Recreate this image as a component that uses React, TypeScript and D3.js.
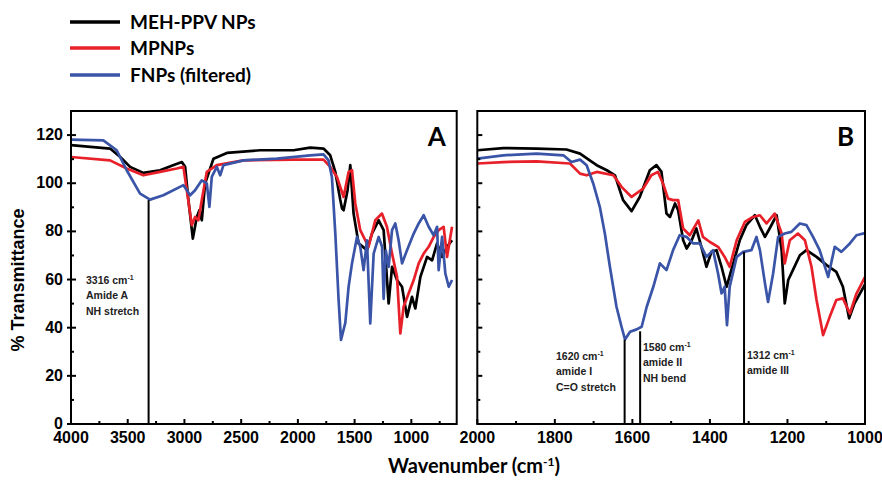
import React from "react";
import * as d3 from "d3";

// ---- Data (wavenumber cm-1, % transmittance) ----
const A_MEH_WN = [4000, 3656, 3568, 3479, 3362, 3215, 3100, 3023, 2994, 2965, 2926, 2891, 2868, 2847, 2818, 2744, 2626, 2332, 2038, 1891, 1774, 1715, 1670, 1626, 1611, 1597, 1562, 1538, 1509, 1465, 1391, 1347, 1288, 1244, 1200, 1170, 1126, 1082, 1038, 994, 965, 920, 861, 817, 773, 729, 685, 641];
const A_MEH_T = [115.8, 114.4, 111, 106.8, 104.3, 105.4, 107.5, 108.8, 106.8, 93, 77, 86, 88.8, 84.6, 99.9, 110.2, 112.6, 113.7, 113.7, 114.8, 114.4, 111.6, 104.7, 93, 89.5, 88.8, 97.1, 107.5, 87.4, 75, 72.2, 79.1, 84.6, 80.5, 50.1, 65.3, 59.8, 57, 44.5, 52.8, 48, 61.1, 69.4, 68, 75, 69.4, 73.6, 76.3];

const A_MP_WN = [4000, 3656, 3509, 3362, 3215, 3068, 3009, 2979, 2935, 2906, 2877, 2847, 2803, 2715, 2480, 2038, 1774, 1715, 1656, 1597, 1553, 1523, 1494, 1450, 1377, 1318, 1259, 1215, 1170, 1126, 1097, 1068, 1024, 979, 935, 891, 847, 803, 759, 715, 685, 641];
const A_MP_T = [110.9, 109.5, 106.1, 103.3, 104.7, 106.1, 106.8, 97.1, 82.6, 86, 84.6, 93, 104.7, 107.5, 109.5, 109.8, 109.8, 106.8, 102.6, 94.3, 104.7, 105.4, 91.6, 80.5, 73.6, 84.6, 87.4, 81.9, 70.8, 61.1, 37.6, 48.7, 54.2, 59.8, 66.7, 70.8, 73.6, 77.7, 80.5, 81.9, 69.4, 81.9];

const A_FN_WN = [4000, 3715, 3597, 3509, 3391, 3303, 3186, 3009, 2979, 2950, 2906, 2847, 2803, 2780, 2759, 2715, 2685, 2656, 2480, 2185, 1891, 1774, 1730, 1700, 1670, 1641, 1620, 1582, 1553, 1523, 1479, 1450, 1421, 1391, 1362, 1332, 1288, 1258, 1244, 1225, 1200, 1170, 1141, 1112, 1082, 1038, 979, 935, 891, 847, 803, 773, 759, 729, 700, 670, 641];
const A_FN_T = [118.1, 117.8, 113.7, 105.4, 95.7, 93.2, 95, 99.2, 97.1, 95, 97.1, 101.2, 99.9, 90.2, 102.6, 106.8, 103.3, 107.5, 109.5, 110.2, 111.6, 112, 109.5, 102.6, 79.1, 51.5, 34.9, 42, 57, 66.7, 77.7, 73.6, 63.9, 76.3, 41.8, 70.8, 77.7, 73.6, 52, 72, 65.3, 80.5, 83.3, 76.3, 66.7, 72.2, 79.1, 83.3, 86.7, 81.9, 78.4, 81.9, 63.9, 77.7, 62.5, 57, 59.8];

const B_MEH_WN = [2000, 1933, 1847, 1770, 1735, 1710, 1692, 1666, 1645, 1624, 1602, 1581, 1555, 1538, 1525, 1512, 1503, 1490, 1482, 1469, 1460, 1447, 1435, 1422, 1409, 1396, 1383, 1370, 1357, 1340, 1323, 1306, 1284, 1271, 1258, 1246, 1228, 1215, 1207, 1198, 1186, 1168, 1151, 1125, 1099, 1074, 1057, 1041, 1027, 1000];
const B_MEH_T = [113.7, 114.6, 114.4, 114, 112.3, 109.5, 107.5, 105.4, 103.3, 93, 88.4, 94.3, 105.4, 107.5, 104.7, 87.4, 86, 91.6, 88.8, 76.3, 72.9, 76.3, 81.2, 73.6, 65.3, 71.5, 72.2, 65.3, 57, 66.7, 76.3, 82.6, 86.7, 81.9, 77.7, 81.2, 86.7, 72.2, 50.1, 59.8, 63.9, 70.1, 72.2, 69.4, 66, 63.2, 57, 43.9, 50.1, 58];

const B_MP_WN = [2000, 1933, 1847, 1761, 1735, 1718, 1692, 1649, 1628, 1602, 1572, 1551, 1534, 1521, 1508, 1495, 1482, 1469, 1452, 1430, 1418, 1400, 1379, 1362, 1349, 1331, 1310, 1289, 1271, 1254, 1233, 1215, 1207, 1194, 1173, 1155, 1138, 1125, 1108, 1091, 1074, 1057, 1039, 1022, 1000];
const B_MP_T = [108.2, 108.8, 109.1, 108.2, 104, 103.3, 104.7, 103.3, 98.5, 94.3, 97.8, 103.3, 104.7, 99.9, 93.6, 93, 93, 81.2, 78.4, 84.6, 77.7, 75.6, 73.6, 69.4, 65.3, 76.3, 83.9, 86, 86.7, 83.3, 87.4, 79.1, 66.7, 76.3, 79.1, 76.3, 65.3, 51.5, 36.9, 44.5, 51.5, 52.2, 45.9, 54.2, 61];

const B_FN_WN = [2000, 1933, 1847, 1778, 1757, 1735, 1718, 1701, 1684, 1671, 1658, 1641, 1628, 1619, 1606, 1589, 1576, 1563, 1546, 1529, 1512, 1495, 1478, 1460, 1443, 1426, 1409, 1392, 1379, 1370, 1362, 1356, 1349, 1331, 1314, 1293, 1280, 1271, 1258, 1250, 1237, 1224, 1207, 1190, 1168, 1151, 1134, 1117, 1095, 1078, 1061, 1039, 1022, 1000];
const B_FN_T = [110.2, 111.6, 112.3, 111.6, 108.8, 109.8, 107.5, 99.9, 90.2, 79.1, 65.3, 48.7, 40.4, 35.1, 38.3, 39.3, 40.4, 48.7, 57, 66.7, 63.9, 72.2, 78.4, 77.7, 75, 75, 69.4, 72.2, 62.5, 54.2, 57, 41.1, 57, 69.4, 71.5, 72.2, 77.7, 72.2, 58.4, 50.7, 62.5, 77.7, 79.1, 79.8, 83.3, 82.6, 77.7, 72.2, 61.1, 73.6, 71.5, 75, 78.4, 79.3];

const SERIES_NAMES = ["MEH-PPV NPs", "MPNPs", "FNPs (filtered)"];
const SERIES_COLORS = ["#000000", "#e8202a", "#3a54a8"];

const Y_TICKS = [0, 20, 40, 60, 80, 100, 120];
const Y_MINOR = [10, 30, 50, 70, 90, 110];
const A_TICKS = [4000, 3500, 3000, 2500, 2000, 1500, 1000];
const A_MINOR = [3750, 3250, 2750, 2250, 1750, 1250, 750];
const B_TICKS = [2000, 1800, 1600, 1400, 1200, 1000];
const B_MINOR = [1900, 1700, 1500, 1300, 1100];

// annotations: wavenumber, top transmittance of marker line, text lines
const A_ANN = [{ wn: 3316, top: 93, lines: ["3316 cm", "Amide A", "NH stretch"], tx: 86, ty: 284 }];
const B_ANN = [
  { wn: 1620, top: 35, lines: ["1620 cm", "amide I", "C=O stretch"], tx: 556, ty: 360 },
  { wn: 1580, top: 38.5, lines: ["1580 cm", "amide II", "NH bend"], tx: 643, ty: 351 },
  { wn: 1312, top: 71.5, lines: ["1312 cm", "amide III"], tx: 747, ty: 359 },
];

const TOP = 111;
const BOTTOM = 424;
const FONT = "'Liberation Sans', Arial, sans-serif";
const LFONT = "Lato, 'Open Sans', sans-serif";

function Panel({ x0, x1, domain, ticks, minor, series, label, ann, showY }: any) {
  const x = d3.scaleLinear().domain(domain).range([x0, x1]);
  const y = d3.scaleLinear().domain([0, 130]).range([BOTTOM, TOP]);
  const line = d3.line<[number, number]>().x((d) => x(d[0])).y((d) => y(d[1]));
  const clipId = "clip" + label;
  return (
    <g>
      <defs>
        <clipPath id={clipId}>
          <rect x={x0} y={TOP} width={x1 - x0} height={BOTTOM - TOP} />
        </clipPath>
      </defs>
      <g clipPath={`url(#${clipId})`}>
        {series.map((s: any, i: number) => (
          <path key={i} d={line(s.wn.map((w: number, j: number) => [w, s.t[j]])) || ""} fill="none" stroke={SERIES_COLORS[i]} strokeWidth={2.7} strokeLinejoin="round" />
        ))}
      </g>
      {ann.map((a: any, i: number) => (
        <g key={i}>
          <line x1={x(a.wn)} x2={x(a.wn)} y1={y(a.top)} y2={BOTTOM} stroke="#000" strokeWidth={2} />
          {a.lines.map((t: string, k: number) => (
            <text key={k} x={a.tx} y={a.ty + k * 15.3} fontFamily={FONT} fontWeight="bold" fontSize={10.5} fill="#222">
              {t}
              {k === 0 ? <tspan dy={-4} fontSize={7}>-1</tspan> : null}
            </text>
          ))}
        </g>
      ))}
      {ticks.map((t: number) => (
        <g key={"t" + t}>
          <line x1={x(t)} x2={x(t)} y1={BOTTOM} y2={BOTTOM - 5} stroke="#000" strokeWidth={2} />
          <text x={x(t)} y={443} textAnchor="middle" fontFamily={FONT} fontWeight="bold" fontSize={16}>{t}</text>
        </g>
      ))}
      {minor.map((t: number) => (
        <line key={"m" + t} x1={x(t)} x2={x(t)} y1={BOTTOM} y2={BOTTOM - 3} stroke="#000" strokeWidth={2} />
      ))}
      {Y_TICKS.map((v) => (
        <g key={"y" + v}>
          <line x1={x0 - (showY ? 4 : 0)} x2={x0 + 5} y1={y(v)} y2={y(v)} stroke="#000" strokeWidth={2} />
          {showY ? (
            <text x={63} y={y(v) + 5} textAnchor="end" fontFamily={FONT} fontWeight="bold" fontSize={16}>{v}</text>
          ) : null}
        </g>
      ))}
      {Y_MINOR.map((v) => (
        <line key={"ym" + v} x1={x0} x2={x0 + 3} y1={y(v)} y2={y(v)} stroke="#000" strokeWidth={2} />
      ))}
      <rect x={x0} y={TOP} width={x1 - x0} height={BOTTOM - TOP} fill="none" stroke="#000" strokeWidth={2} />
      <text x={x1 - 11} y={146} textAnchor="end" fontFamily={LFONT} fontWeight="bold" fontSize={26}>{label}</text>
    </g>
  );
}

export default function App() {
  const seriesA = [
    { wn: A_MEH_WN, t: A_MEH_T },
    { wn: A_MP_WN, t: A_MP_T },
    { wn: A_FN_WN, t: A_FN_T },
  ];
  const seriesB = [
    { wn: B_MEH_WN, t: B_MEH_T },
    { wn: B_MP_WN, t: B_MP_T },
    { wn: B_FN_WN, t: B_FN_T },
  ];
  const legendY = [22, 48, 75];
  return (
    <svg width={882} height={481} style={{ position: "absolute", left: 0, top: 0, background: "#fff" }}>
      <rect width={882} height={481} fill="#fff" />
      {SERIES_NAMES.map((n, i) => (
        <g key={n}>
          <line x1={70} x2={120} y1={legendY[i]} y2={legendY[i]} stroke={SERIES_COLORS[i]} strokeWidth={3.5} />
          <text x={130} y={legendY[i] + 6.5} fontFamily={LFONT} fontWeight="bold" fontSize={19}>{n}</text>
        </g>
      ))}
      <Panel x0={71} x1={456.7} domain={[4000, 600]} ticks={A_TICKS} minor={A_MINOR} series={seriesA} label="A" ann={A_ANN} showY={true} />
      <Panel x0={477.3} x1={865} domain={[2000, 1000]} ticks={B_TICKS} minor={B_MINOR} series={seriesB} label="B" ann={B_ANN} showY={false} />
      <text transform="translate(24,280) rotate(-90)" textAnchor="middle" fontFamily={FONT} fontWeight="bold" fontSize={18}>% Transmittance</text>
      <text x={474} y={473} textAnchor="middle" fontFamily={LFONT} fontWeight="bold" fontSize={20}>
        Wavenumber (cm<tspan dy={-7} fontSize={12}>-1</tspan><tspan dy={7}>)</tspan>
      </text>
    </svg>
  );
}
